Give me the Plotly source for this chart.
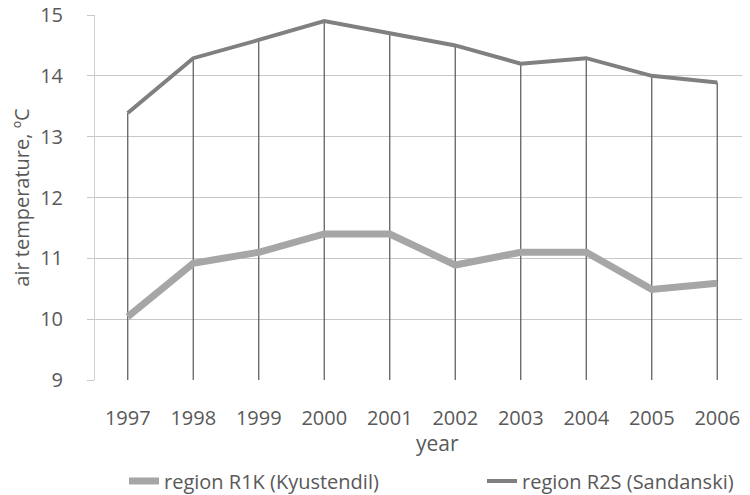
import plotly.graph_objects as go

years = ["1997", "1998", "1999", "2000", "2001", "2002", "2003", "2004", "2005", "2006"]
r1k = [10.04, 10.92, 11.1, 11.4, 11.4, 10.89, 11.1, 11.1, 10.49, 10.59]
r2s = [13.39, 14.29, 14.59, 14.9, 14.7, 14.5, 14.2, 14.29, 14.0, 13.89]
y_ticks = [9, 10, 11, 12, 13, 14, 15]
y_min = 9

font = "Open Sans"
txt = "#595959"

fig = go.Figure()
# drop lines from R2S points to the x axis
fig.add_trace(go.Scatter(
    x=years, y=r2s, mode="markers", marker=dict(size=0.1, color="rgba(0,0,0,0)"),
    error_y=dict(type="data", symmetric=False, array=[0] * len(r2s),
                 arrayminus=[v - y_min for v in r2s], width=0, thickness=1.2, color="#555555"),
    showlegend=False, hoverinfo="skip"))
fig.add_trace(go.Scatter(x=years, y=r1k, mode="lines", name="region R1K (Kyustendil)",
                         line=dict(color="#a6a6a6", width=7), legend="legend"))
fig.add_trace(go.Scatter(x=years, y=r2s, mode="lines", name="region R2S (Sandanski)",
                         line=dict(color="#808080", width=4), legend="legend2"))

# page body adds an 8px offset, so the figure is 8px smaller on each axis
leg_y = -(481 - 380) / 365
fig.update_layout(
    width=742, height=487,
    margin=dict(l=87, r=0, t=7, b=115, autoexpand=False),
    plot_bgcolor="white", paper_bgcolor="white",
    font=dict(family=font, size=20, color=txt),
    xaxis=dict(type="category", range=[-0.5, 9.5], showgrid=False, automargin=False,
               showline=False, ticks="", ticklabelstandoff=24, ticklabeloverflow="allow",
               tickfont=dict(size=20, color=txt)),
    yaxis=dict(range=[9, 15], tickvals=y_ticks, showgrid=True, gridcolor="#c8c8c8", gridwidth=1,
               zeroline=False, showline=True, linecolor="#d0d0d0", linewidth=1, automargin=False,
               ticks="outside", ticklen=7, tickcolor="#c8c8c8", ticklabelstandoff=20,
               ticklabeloverflow="allow",
               tickfont=dict(size=20, color=txt),
               title=dict(text="air temperature, ºC", standoff=26, font=dict(size=20, color=txt))),
    legend=dict(orientation="h", x=29 / 655, xanchor="left",
                y=leg_y, yanchor="middle", font=dict(size=20, color=txt),
                bgcolor="rgba(0,0,0,0)"),
    legend2=dict(orientation="h", x=(482 - 95) / 655, xanchor="left",
                 y=leg_y, yanchor="middle", font=dict(size=20, color=txt),
                 bgcolor="rgba(0,0,0,0)"),
    annotations=[dict(text="year", xref="paper", yref="paper", x=(437 - 95) / 655,
                      y=-(443 - 380) / 365, xanchor="center", yanchor="middle",
                      showarrow=False, font=dict(size=21, color=txt))],
)
fig.write_html("out.html")
